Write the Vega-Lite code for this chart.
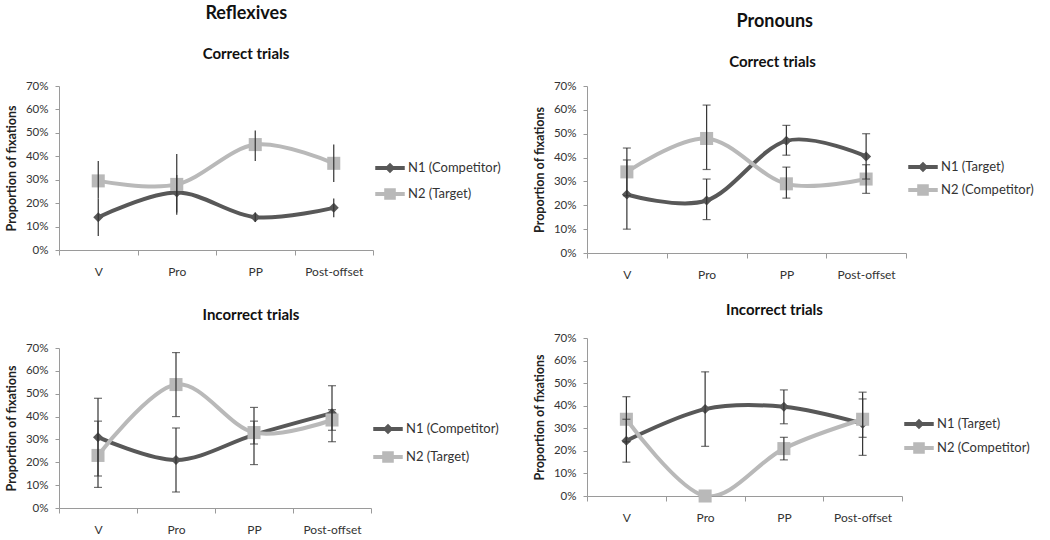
{
  "$schema": "https://vega.github.io/schema/vega-lite/v6.json",
  "background": "white",
  "padding": {"left": 5, "top": 5, "right": 5, "bottom": 5},
  "config": {
    "font": "Lato",
    "view": {"stroke": null},
    "concat": {"spacing": 32},
    "axis": {"labelFont": "Lato", "titleFont": "Lato", "labelColor": "#333", "titleColor": "#222", "domainColor": "#9a9a9a", "tickColor": "#9a9a9a", "grid": false, "labelFontSize": 12},
    "axisY": {"tickSize": 4, "labelPadding": 7, "labelFontSize": 11.5, "titleFontSize": 12.5, "titleFontWeight": "bold", "titlePadding": 7},
    "axisX": {"labelAngle": 0, "tickBand": "extent", "tickSize": 5, "labelPadding": 11},
    "title": {"font": "Lato", "color": "#111", "fontWeight": "bold"},
    "legend": {"labelFont": "Lato", "labelFontSize": 13, "labelColor": "#333"}
  },
  "datasets": {
    "d": [
      {"lang": "Reflexives", "trial": "Correct", "series": "N1 (Competitor)", "region": "V", "value": 0.14, "lo": 0.06, "hi": 0.22},
      {"lang": "Reflexives", "trial": "Correct", "series": "N1 (Competitor)", "region": "Pro", "value": 0.245, "lo": 0.16, "hi": 0.32},
      {"lang": "Reflexives", "trial": "Correct", "series": "N1 (Competitor)", "region": "PP", "value": 0.14, "lo": 0.12, "hi": 0.16},
      {"lang": "Reflexives", "trial": "Correct", "series": "N1 (Competitor)", "region": "Post-offset", "value": 0.18, "lo": 0.14, "hi": 0.22},
      {"lang": "Reflexives", "trial": "Correct", "series": "N2 (Target)", "region": "V", "value": 0.295, "lo": 0.22, "hi": 0.38},
      {"lang": "Reflexives", "trial": "Correct", "series": "N2 (Target)", "region": "Pro", "value": 0.28, "lo": 0.15, "hi": 0.41},
      {"lang": "Reflexives", "trial": "Correct", "series": "N2 (Target)", "region": "PP", "value": 0.45, "lo": 0.38, "hi": 0.51},
      {"lang": "Reflexives", "trial": "Correct", "series": "N2 (Target)", "region": "Post-offset", "value": 0.37, "lo": 0.29, "hi": 0.45},

      {"lang": "Pronouns", "trial": "Correct", "series": "N1 (Target)", "region": "V", "value": 0.245, "lo": 0.10, "hi": 0.39},
      {"lang": "Pronouns", "trial": "Correct", "series": "N1 (Target)", "region": "Pro", "value": 0.22, "lo": 0.14, "hi": 0.31},
      {"lang": "Pronouns", "trial": "Correct", "series": "N1 (Target)", "region": "PP", "value": 0.47, "lo": 0.41, "hi": 0.535},
      {"lang": "Pronouns", "trial": "Correct", "series": "N1 (Target)", "region": "Post-offset", "value": 0.405, "lo": 0.31, "hi": 0.50},
      {"lang": "Pronouns", "trial": "Correct", "series": "N2 (Competitor)", "region": "V", "value": 0.34, "lo": 0.24, "hi": 0.44},
      {"lang": "Pronouns", "trial": "Correct", "series": "N2 (Competitor)", "region": "Pro", "value": 0.48, "lo": 0.35, "hi": 0.62},
      {"lang": "Pronouns", "trial": "Correct", "series": "N2 (Competitor)", "region": "PP", "value": 0.29, "lo": 0.23, "hi": 0.36},
      {"lang": "Pronouns", "trial": "Correct", "series": "N2 (Competitor)", "region": "Post-offset", "value": 0.31, "lo": 0.25, "hi": 0.37},

      {"lang": "Reflexives", "trial": "Incorrect", "series": "N1 (Competitor)", "region": "V", "value": 0.31, "lo": 0.14, "hi": 0.48},
      {"lang": "Reflexives", "trial": "Incorrect", "series": "N1 (Competitor)", "region": "Pro", "value": 0.21, "lo": 0.07, "hi": 0.35},
      {"lang": "Reflexives", "trial": "Incorrect", "series": "N1 (Competitor)", "region": "PP", "value": 0.32, "lo": 0.19, "hi": 0.44},
      {"lang": "Reflexives", "trial": "Incorrect", "series": "N1 (Competitor)", "region": "Post-offset", "value": 0.415, "lo": 0.29, "hi": 0.535},
      {"lang": "Reflexives", "trial": "Incorrect", "series": "N2 (Target)", "region": "V", "value": 0.23, "lo": 0.09, "hi": 0.38},
      {"lang": "Reflexives", "trial": "Incorrect", "series": "N2 (Target)", "region": "Pro", "value": 0.54, "lo": 0.40, "hi": 0.68},
      {"lang": "Reflexives", "trial": "Incorrect", "series": "N2 (Target)", "region": "PP", "value": 0.33, "lo": 0.28, "hi": 0.38},
      {"lang": "Reflexives", "trial": "Incorrect", "series": "N2 (Target)", "region": "Post-offset", "value": 0.385, "lo": 0.34, "hi": 0.43},

      {"lang": "Pronouns", "trial": "Incorrect", "series": "N1 (Target)", "region": "V", "value": 0.245, "lo": 0.15, "hi": 0.34},
      {"lang": "Pronouns", "trial": "Incorrect", "series": "N1 (Target)", "region": "Pro", "value": 0.385, "lo": 0.22, "hi": 0.55},
      {"lang": "Pronouns", "trial": "Incorrect", "series": "N1 (Target)", "region": "PP", "value": 0.395, "lo": 0.32, "hi": 0.47},
      {"lang": "Pronouns", "trial": "Incorrect", "series": "N1 (Target)", "region": "Post-offset", "value": 0.32, "lo": 0.18, "hi": 0.46},
      {"lang": "Pronouns", "trial": "Incorrect", "series": "N2 (Competitor)", "region": "V", "value": 0.34, "lo": 0.24, "hi": 0.44},
      {"lang": "Pronouns", "trial": "Incorrect", "series": "N2 (Competitor)", "region": "Pro", "value": 0.0, "lo": null, "hi": null},
      {"lang": "Pronouns", "trial": "Incorrect", "series": "N2 (Competitor)", "region": "PP", "value": 0.21, "lo": 0.16, "hi": 0.26},
      {"lang": "Pronouns", "trial": "Incorrect", "series": "N2 (Competitor)", "region": "Post-offset", "value": 0.34, "lo": 0.26, "hi": 0.43}
    ]
  },
  "hconcat": [
    {
      "title": {"text": "Reflexives", "fontSize": 18, "offset": 24, "anchor": "middle", "dx": -7},
      "spacing": 31,
      "vconcat": [
        {
          "title": {"text": "Correct trials", "fontSize": 15, "offset": 18, "dx": 30},
          "width": 314, "height": 164,
          "data": {"name": "d"},
          "transform": [{"filter": "datum.lang == 'Reflexives' && datum.trial == 'Correct'"}],
          "encoding": {
            "x": {"field": "region", "type": "nominal", "sort": ["V", "Pro", "PP", "Post-offset"], "title": null},
            "y": {"field": "value", "type": "quantitative", "scale": {"domain": [0, 0.7], "nice": false}, "title": "Proportion of fixations",
                  "axis": {"values": [0, 0.1, 0.2, 0.3, 0.4, 0.5, 0.6, 0.7], "labelOverlap": false, "format": ".0%"}}
          },
          "layer": [
            {"mark": {"type": "line", "interpolate": "cardinal", "strokeWidth": 4, "clip": true},
             "encoding": {"color": {"field": "series", "type": "nominal", "scale": {"domain": ["N1 (Competitor)", "N2 (Target)"], "range": ["#585858", "#b9b9b9"]},
                                    "legend": {"title": null, "orient": "none", "legendX": 316, "legendY": 67, "symbolSize": 784, "rowPadding": 3, "labelOffset": 3,
                                               "symbolType": {"expr": "indexof(datum.value, 'N1') == 0 ? 'M-1,-0.09H1V0.09H-1Z M0,-0.3L0.3,0L0,0.3L-0.3,0Z' : 'M-1,-0.09H1V0.09H-1Z M-0.36,-0.36H0.36V0.36H-0.36Z'"}}}}},
            {"mark": {"type": "point", "filled": true, "opacity": 1},
             "encoding": {"color": {"field": "series", "type": "nominal"},
                          "shape": {"field": "series", "type": "nominal", "scale": {"range": ["diamond", "square"]}, "legend": null},
                          "size": {"field": "series", "type": "nominal", "scale": {"range": [100, 170]}, "legend": null}}},
            {"mark": {"type": "rule", "color": "#333", "strokeWidth": 1.2},
             "encoding": {"y": {"field": "lo", "type": "quantitative"}, "y2": {"field": "hi"}}}
          ]
        },
        {
          "title": {"text": "Incorrect trials", "fontSize": 15, "offset": 19, "dx": 36},
          "width": 312, "height": 160,
          "data": {"name": "d"},
          "transform": [{"filter": "datum.lang == 'Reflexives' && datum.trial == 'Incorrect'"}],
          "encoding": {
            "x": {"field": "region", "type": "nominal", "sort": ["V", "Pro", "PP", "Post-offset"], "title": null},
            "y": {"field": "value", "type": "quantitative", "scale": {"domain": [0, 0.7], "nice": false}, "title": "Proportion of fixations",
                  "axis": {"values": [0, 0.1, 0.2, 0.3, 0.4, 0.5, 0.6, 0.7], "labelOverlap": false, "format": ".0%"}}
          },
          "layer": [
            {"mark": {"type": "line", "interpolate": "cardinal", "strokeWidth": 4, "clip": true},
             "encoding": {"color": {"field": "series", "type": "nominal", "scale": {"domain": ["N1 (Competitor)", "N2 (Target)"], "range": ["#585858", "#b9b9b9"]},
                                    "legend": {"title": null, "orient": "none", "legendX": 314, "legendY": 66, "symbolSize": 784, "rowPadding": 5, "labelOffset": 3,
                                               "symbolType": {"expr": "indexof(datum.value, 'N1') == 0 ? 'M-1,-0.09H1V0.09H-1Z M0,-0.3L0.3,0L0,0.3L-0.3,0Z' : 'M-1,-0.09H1V0.09H-1Z M-0.36,-0.36H0.36V0.36H-0.36Z'"}}}}},
            {"mark": {"type": "point", "filled": true, "opacity": 1},
             "encoding": {"color": {"field": "series", "type": "nominal"},
                          "shape": {"field": "series", "type": "nominal", "scale": {"range": ["diamond", "square"]}, "legend": null},
                          "size": {"field": "series", "type": "nominal", "scale": {"range": [100, 170]}, "legend": null}}},
            {"mark": {"type": "rule", "color": "#333", "strokeWidth": 1.2},
             "encoding": {"y": {"field": "lo", "type": "quantitative"}, "y2": {"field": "hi"}}},
            {"mark": {"type": "tick", "color": "#333", "thickness": 1.2, "size": 8},
             "encoding": {"y": {"field": "lo", "type": "quantitative"}}},
            {"mark": {"type": "tick", "color": "#333", "thickness": 1.2, "size": 8},
             "encoding": {"y": {"field": "hi", "type": "quantitative"}}}
          ]
        }
      ],
      "resolve": {"scale": {"color": "independent", "shape": "independent", "size": "independent"}, "legend": {"color": "independent"}}
    },
    {
      "title": {"text": "Pronouns", "fontSize": 18, "offset": 24, "anchor": "middle", "dx": -9},
      "spacing": 23,
      "vconcat": [
        {
          "title": {"text": "Correct trials", "fontSize": 15, "offset": 10, "dx": 26},
          "width": 319, "height": 167,
          "data": {"name": "d"},
          "transform": [{"filter": "datum.lang == 'Pronouns' && datum.trial == 'Correct'"}],
          "encoding": {
            "x": {"field": "region", "type": "nominal", "sort": ["V", "Pro", "PP", "Post-offset"], "title": null},
            "y": {"field": "value", "type": "quantitative", "scale": {"domain": [0, 0.7], "nice": false}, "title": "Proportion of fixations",
                  "axis": {"values": [0, 0.1, 0.2, 0.3, 0.4, 0.5, 0.6, 0.7], "labelOverlap": false, "format": ".0%"}}
          },
          "layer": [
            {"mark": {"type": "line", "interpolate": "cardinal", "strokeWidth": 4, "clip": true},
             "encoding": {"color": {"field": "series", "type": "nominal", "scale": {"domain": ["N1 (Target)", "N2 (Competitor)"], "range": ["#585858", "#b9b9b9"]},
                                    "legend": {"title": null, "orient": "none", "legendX": 321, "legendY": 66, "symbolSize": 784, "rowPadding": 0, "labelOffset": 3,
                                               "symbolType": {"expr": "indexof(datum.value, 'N1') == 0 ? 'M-1,-0.09H1V0.09H-1Z M0,-0.3L0.3,0L0,0.3L-0.3,0Z' : 'M-1,-0.09H1V0.09H-1Z M-0.36,-0.36H0.36V0.36H-0.36Z'"}}}}},
            {"mark": {"type": "point", "filled": true, "opacity": 1},
             "encoding": {"color": {"field": "series", "type": "nominal"},
                          "shape": {"field": "series", "type": "nominal", "scale": {"range": ["diamond", "square"]}, "legend": null},
                          "size": {"field": "series", "type": "nominal", "scale": {"range": [100, 170]}, "legend": null}}},
            {"mark": {"type": "rule", "color": "#333", "strokeWidth": 1.2},
             "encoding": {"y": {"field": "lo", "type": "quantitative"}, "y2": {"field": "hi"}}},
            {"mark": {"type": "tick", "color": "#333", "thickness": 1.2, "size": 8},
             "encoding": {"y": {"field": "lo", "type": "quantitative"}}},
            {"mark": {"type": "tick", "color": "#333", "thickness": 1.2, "size": 8},
             "encoding": {"y": {"field": "hi", "type": "quantitative"}}}
          ]
        },
        {
          "title": {"text": "Incorrect trials", "fontSize": 15, "offset": 14, "dx": 30},
          "width": 315, "height": 158,
          "data": {"name": "d"},
          "transform": [{"filter": "datum.lang == 'Pronouns' && datum.trial == 'Incorrect'"}],
          "encoding": {
            "x": {"field": "region", "type": "nominal", "sort": ["V", "Pro", "PP", "Post-offset"], "title": null},
            "y": {"field": "value", "type": "quantitative", "scale": {"domain": [0, 0.7], "nice": false}, "title": "Proportion of fixations",
                  "axis": {"values": [0, 0.1, 0.2, 0.3, 0.4, 0.5, 0.6, 0.7], "labelOverlap": false, "format": ".0%"}}
          },
          "layer": [
            {"mark": {"type": "line", "interpolate": "cardinal", "strokeWidth": 4, "clip": true},
             "encoding": {"color": {"field": "series", "type": "nominal", "scale": {"domain": ["N1 (Target)", "N2 (Competitor)"], "range": ["#585858", "#b9b9b9"]},
                                    "legend": {"title": null, "orient": "none", "legendX": 317, "legendY": 71, "symbolSize": 784, "rowPadding": 1, "labelOffset": 3,
                                               "symbolType": {"expr": "indexof(datum.value, 'N1') == 0 ? 'M-1,-0.09H1V0.09H-1Z M0,-0.3L0.3,0L0,0.3L-0.3,0Z' : 'M-1,-0.09H1V0.09H-1Z M-0.36,-0.36H0.36V0.36H-0.36Z'"}}}}},
            {"mark": {"type": "point", "filled": true, "opacity": 1},
             "encoding": {"color": {"field": "series", "type": "nominal"},
                          "shape": {"field": "series", "type": "nominal", "scale": {"range": ["diamond", "square"]}, "legend": null},
                          "size": {"field": "series", "type": "nominal", "scale": {"range": [100, 170]}, "legend": null}}},
            {"mark": {"type": "rule", "color": "#333", "strokeWidth": 1.2},
             "encoding": {"y": {"field": "lo", "type": "quantitative"}, "y2": {"field": "hi"}}},
            {"mark": {"type": "tick", "color": "#333", "thickness": 1.2, "size": 8},
             "encoding": {"y": {"field": "lo", "type": "quantitative"}}},
            {"mark": {"type": "tick", "color": "#333", "thickness": 1.2, "size": 8},
             "encoding": {"y": {"field": "hi", "type": "quantitative"}}}
          ]
        }
      ],
      "resolve": {"scale": {"color": "independent", "shape": "independent", "size": "independent"}, "legend": {"color": "independent"}}
    }
  ],
  "resolve": {"scale": {"color": "independent", "shape": "independent", "size": "independent"}, "legend": {"color": "independent"}}
}
